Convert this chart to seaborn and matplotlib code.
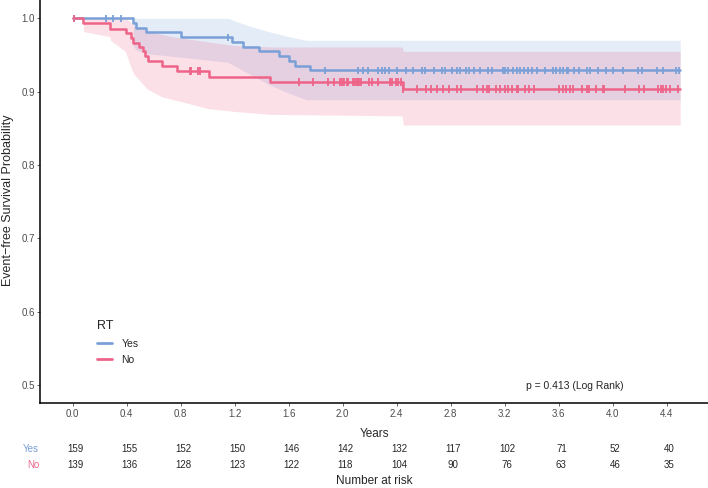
import numpy as np
import pandas as pd
import seaborn as sns
import matplotlib.pyplot as plt
from matplotlib.lines import Line2D
from matplotlib.transforms import blended_transform_factory

# ---- data ----
groups = ['Yes', 'No']

yes_time = [0, 0.45, 0.47, 0.54, 0.80, 1.18, 1.26, 1.38, 1.53, 1.60, 1.65, 1.76, 4.5]
yes_surv = [1.0, 0.993, 0.987, 0.981, 0.974, 0.968, 0.961, 0.955, 0.949, 0.942, 0.935, 0.929, 0.929]

no_time = [0, 0.079, 0.276, 0.395, 0.43, 0.449, 0.494, 0.518, 0.536, 0.556, 0.664, 0.77, 1.01, 1.461, 2.444, 4.5]
no_surv = [1.0, 0.994, 0.986, 0.980, 0.973, 0.966, 0.961, 0.956, 0.949, 0.942, 0.935, 0.928, 0.920, 0.913, 0.9035, 0.9035]

# confidence bands
yes_band_t = [0, 0.449, 0.45, 0.47, 0.54, 0.80, 1.15, 1.30, 1.45, 1.60, 1.73, 4.5]
yes_upper = [1.0, 1.0, 1.0, 1.0, 1.0, 1.0, 1.0, 0.99, 0.982, 0.975, 0.970, 0.970]
yes_lower = [1.0, 1.0, 0.962, 0.957, 0.952, 0.947, 0.940, 0.925, 0.910, 0.898, 0.889, 0.889]

no_band_t = [0, 0.079, 0.08, 0.276, 0.28, 0.39, 0.43, 0.45, 0.55, 0.66, 0.77, 1.0, 1.2, 1.461, 2.44, 2.45, 4.5]
no_upper = [1.0, 1.0, 1.0, 1.0, 1.0, 1.0, 0.995, 0.99, 0.983, 0.978, 0.974, 0.968, 0.963, 0.961, 0.961, 0.955, 0.955]
no_lower = [1.0, 1.0, 0.982, 0.975, 0.970, 0.955, 0.934, 0.925, 0.904, 0.893, 0.888, 0.877, 0.873, 0.869, 0.867, 0.8545, 0.8545]

# censoring times
yes_cens = [0.01, 0.247, 0.296, 0.356, 1.153, 1.869, 2.116, 2.153, 2.190, 2.259, 2.289, 2.313,
            2.343, 2.405, 2.469, 2.523, 2.585, 2.610, 2.679, 2.733, 2.760, 2.807, 2.849, 2.869,
            2.913, 2.938, 2.975, 3.017, 3.074, 3.104, 3.185, 3.202, 3.222, 3.264, 3.289, 3.313,
            3.343, 3.375, 3.400, 3.437, 3.499, 3.560, 3.580, 3.610, 3.634, 3.659, 3.671, 3.716,
            3.753, 3.812, 3.832, 3.893, 3.948, 4.005, 4.074, 4.185, 4.215, 4.331, 4.375, 4.469, 4.494]
no_cens = [0.01, 0.87, 0.88, 0.93, 0.943, 1.676, 1.782, 1.889, 1.938, 1.980, 1.993, 2.012,
           2.030, 2.042, 2.079, 2.091, 2.104, 2.116, 2.121, 2.136, 2.197, 2.219, 2.259, 2.350,
           2.367, 2.393, 2.412, 2.430, 2.449, 2.548, 2.617, 2.652, 2.696, 2.741, 2.790, 2.844,
           2.874, 2.997, 3.042, 3.067, 3.086, 3.133, 3.165, 3.202, 3.222, 3.252, 3.289, 3.301,
           3.350, 3.382, 3.419, 3.602, 3.634, 3.653, 3.683, 3.708, 3.770, 3.807, 3.827, 3.874,
           3.926, 3.938, 4.091, 4.197, 4.232, 4.338, 4.356, 4.375, 4.395, 4.424, 4.486]

risk_ticks = [0.0, 0.4, 0.8, 1.2, 1.6, 2.0, 2.4, 2.8, 3.2, 3.6, 4.0, 4.4]
yes_risk = [159, 155, 152, 150, 146, 142, 132, 117, 102, 71, 52, 40]
no_risk = [139, 136, 128, 123, 122, 118, 104, 90, 76, 63, 46, 35]

colors = {'Yes': '#7aa0d8', 'No': '#ee6489'}

# ---- build tables ----
curves = pd.concat([
    pd.DataFrame({'time': yes_time, 'surv': yes_surv, 'group': 'Yes'}),
    pd.DataFrame({'time': no_time, 'surv': no_surv, 'group': 'No'}),
])


def surv_at(t, times, surv):
    idx = np.searchsorted(times, t, side='right') - 1
    return np.asarray(surv)[idx]


cens = pd.concat([
    pd.DataFrame({'time': yes_cens, 'surv': surv_at(yes_cens, yes_time, yes_surv), 'group': 'Yes'}),
    pd.DataFrame({'time': no_cens, 'surv': surv_at(no_cens, no_time, no_surv), 'group': 'No'}),
])

# ---- plot ----
sns.set_style('white')
plt.rcParams['font.family'] = ['Liberation Sans', 'DejaVu Sans']

fig = plt.figure(figsize=(7.08, 4.88), dpi=100)
ax = fig.add_axes([40 / 708, 85 / 488, 668 / 708, 403 / 488])

ax.fill_between(yes_band_t, yes_lower, yes_upper, color=colors['Yes'], alpha=0.2, lw=0)
ax.fill_between(no_band_t, no_lower, no_upper, color=colors['No'], alpha=0.2, lw=0)

sns.lineplot(data=curves, x='time', y='surv', hue='group', hue_order=groups,
             palette=colors, drawstyle='steps-post', estimator=None, sort=False,
             lw=1.8, legend=False, ax=ax)
sns.scatterplot(data=cens, x='time', y='surv', hue='group', hue_order=groups,
                palette=colors, marker='|', s=30, linewidth=1.3, legend=False, ax=ax)

ax.set_xlim(-0.242, 4.706)
ax.set_ylim(0.4754, 1.025)
ax.set_xticks(risk_ticks)
ax.set_xticklabels([f'{t:.1f}' for t in risk_ticks])
ax.set_yticks([0.5, 0.6, 0.7, 0.8, 0.9, 1.0])
ax.set_yticklabels(['0.5', '0.6', '0.7', '0.8', '0.9', '1.0'])
ax.tick_params(axis='both', labelsize=7, labelcolor='#4d4d4d', color='#4d4d4d',
               length=2.5, width=0.6, direction='out', left=True, bottom=True)
ax.tick_params(axis='x', pad=1.5)
ax.tick_params(axis='y', pad=1)
for side in ['top', 'right']:
    ax.spines[side].set_visible(False)
for side in ['left', 'bottom']:
    ax.spines[side].set_color('black')
    ax.spines[side].set_linewidth(1.1)
ax.set_xlabel('')
ax.set_ylabel('')

fig.text(8 / 708, 1 - 200 / 488, 'Event\u2212free Survival Probability', rotation=90,
         ha='center', va='center', fontsize=9)
ax.text(0.80, 0.042, 'p = 0.413 (Log Rank)', transform=ax.transAxes,
        ha='center', va='center', fontsize=7.5)

handles = [Line2D([], [], color=colors[g], lw=2) for g in groups]
leg = ax.legend(handles, groups, title='RT', loc='upper left', bbox_to_anchor=(0.072, 0.228),
                frameon=False, fontsize=7.5, title_fontsize=9, handlelength=1.4,
                handletextpad=0.9, labelspacing=0.6, alignment='left')

# x label and risk table below the axes
row_trans = blended_transform_factory(ax.transData, fig.transFigure)
fig.text(374 / 708, 1 - 434 / 488, 'Years', ha='center', va='center', fontsize=8.5)
for t, n_yes, n_no in zip(risk_ticks, yes_risk, no_risk):
    ax.text(t + 0.02, 1 - 449 / 488, str(n_yes), transform=row_trans,
            ha='center', va='center', fontsize=7)
    ax.text(t + 0.02, 1 - 465 / 488, str(n_no), transform=row_trans,
            ha='center', va='center', fontsize=7)
fig.text(39 / 708, 1 - 449 / 488, 'Yes', ha='right', va='center', fontsize=7, color=colors['Yes'])
fig.text(39 / 708, 1 - 465 / 488, 'No', ha='right', va='center', fontsize=7, color=colors['No'])
fig.text(374 / 708, 1 - 481 / 488, 'Number at risk', ha='center', va='center', fontsize=8.5)

fig.savefig('out.png', dpi=100)
